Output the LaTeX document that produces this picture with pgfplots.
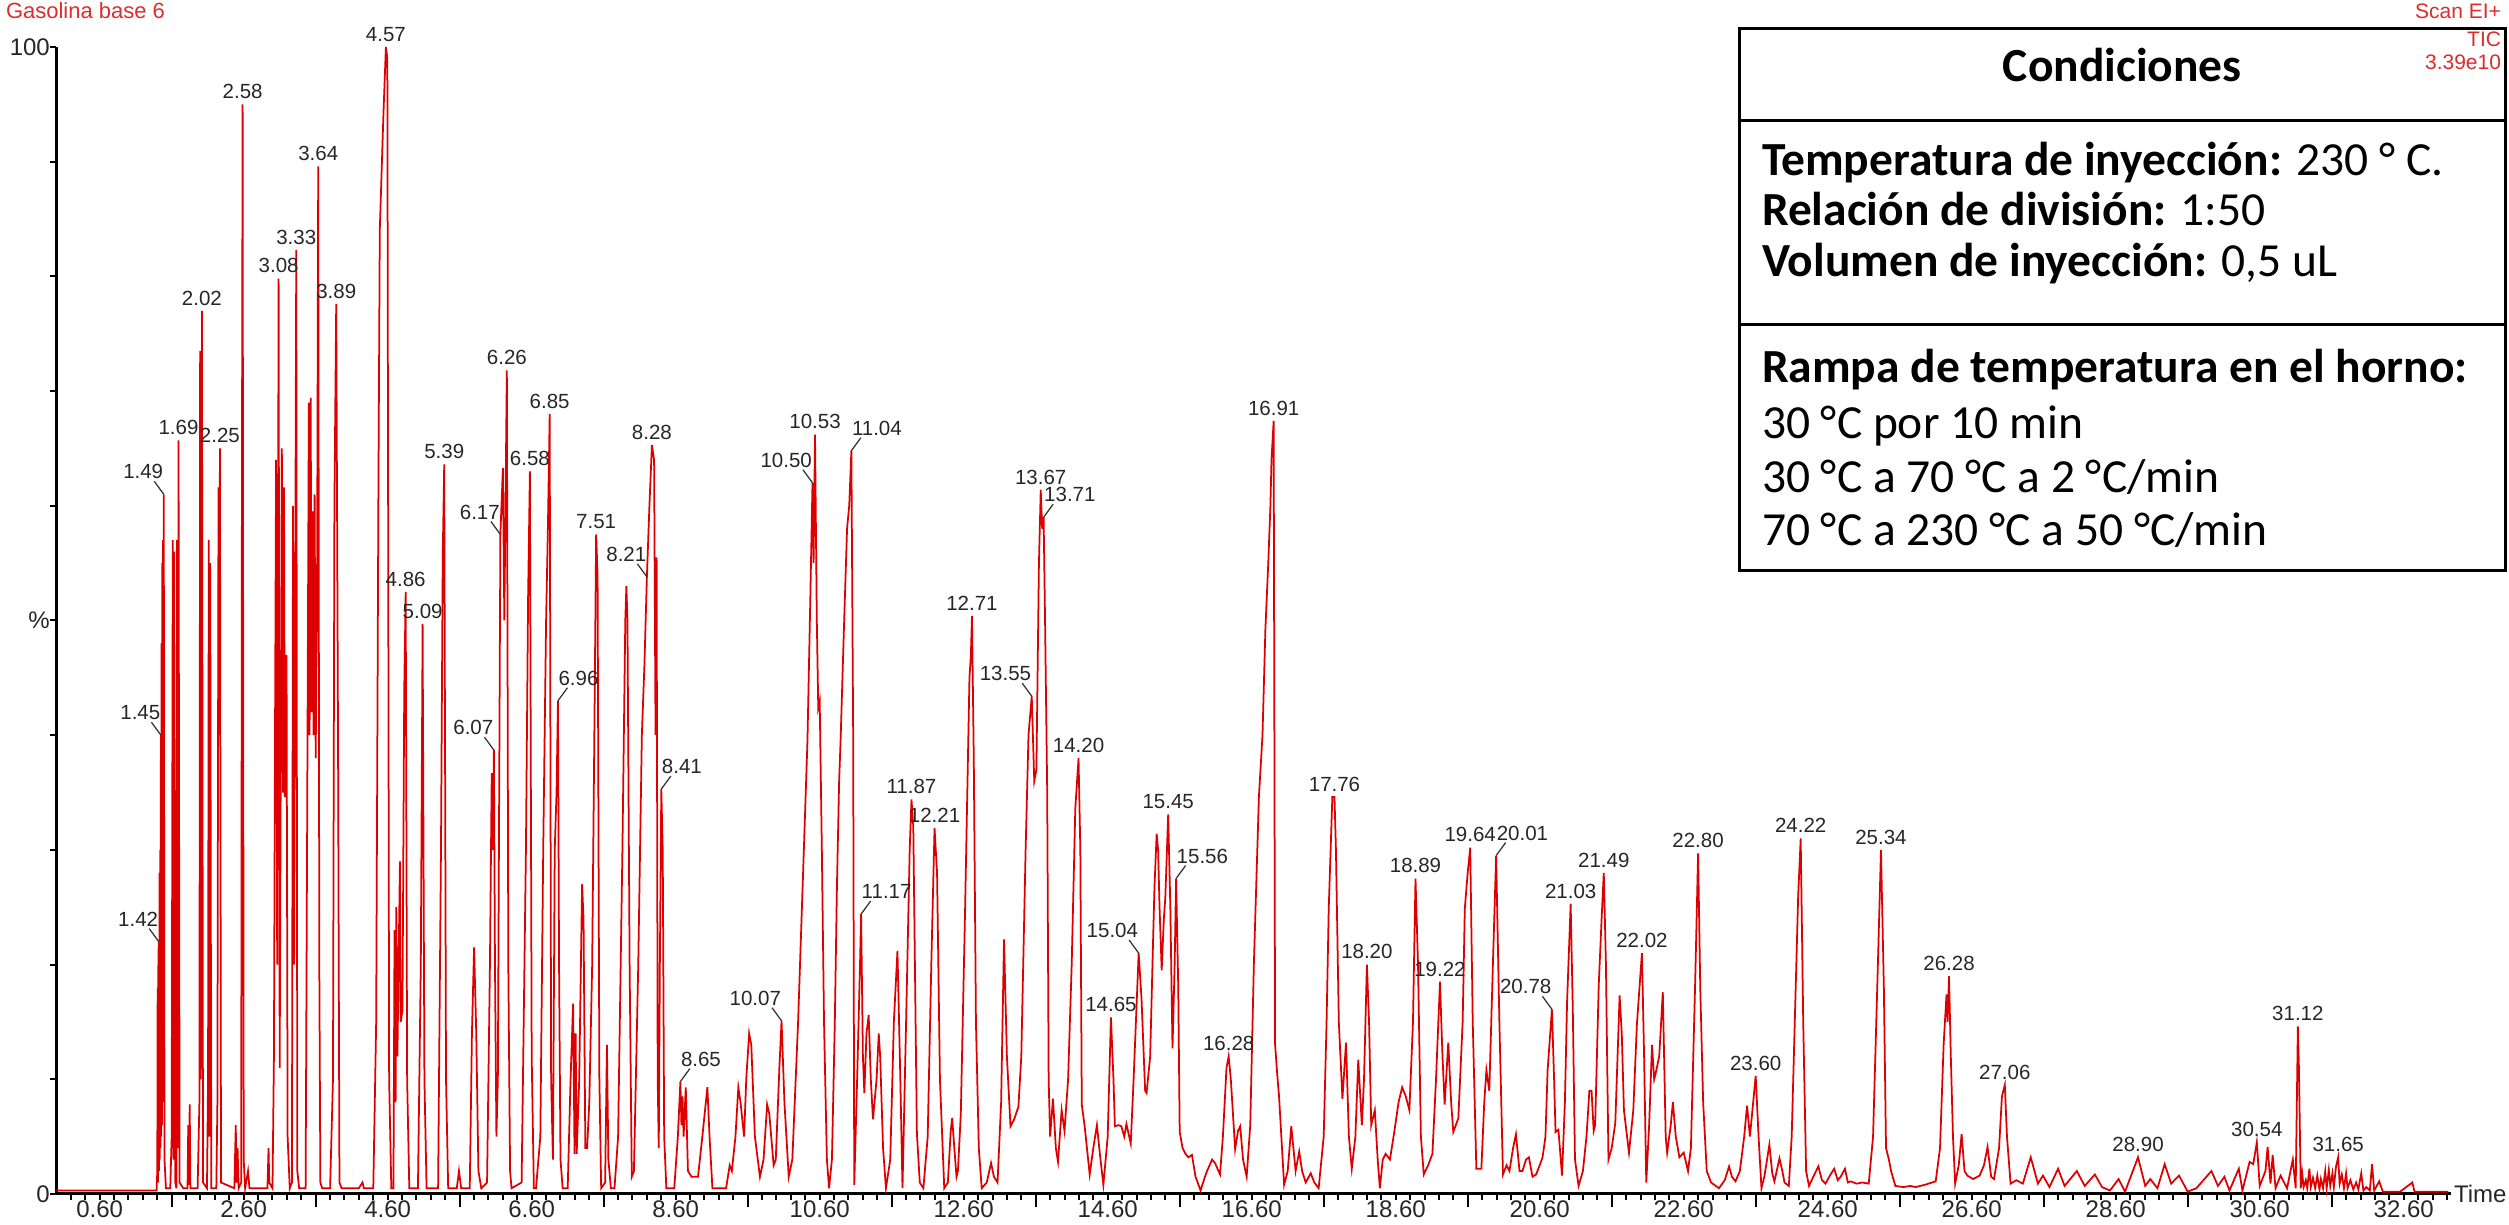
\documentclass[border=0pt]{standalone}
\usepackage{pgfplots}
\pgfplotsset{compat=1.18}
\usepackage{fontspec}
\setmainfont{Liberation Sans}
\newfontfamily\calibri{Carlito}
\definecolor{trace}{RGB}{222,0,0}
\definecolor{redtxt}{RGB}{220,45,45}
\tikzset{pl/.style={font=\fontsize{4.1}{5}\selectfont, text=black!85, inner sep=0.3pt},
         ld/.style={draw=black!80, line width=0.25pt}}
\newcommand{\pa}[3]{\node[pl,anchor=south,yshift=0.6pt] at (axis cs:#1,#2) {#3};}
\newcommand{\pl}[3]{\draw[ld] (axis cs:#1,#2) -- ++(-1.9pt,2.6pt) node[pl,anchor=south east,xshift=2.2pt] {#3};}
\newcommand{\pr}[3]{\draw[ld] (axis cs:#1,#2) -- ++(1.9pt,2.6pt) node[pl,anchor=south west,xshift=-2.2pt] {#3};}
\begin{document}
\begin{tikzpicture}
\path[use as bounding box] (0,0) rectangle (501.8pt,245pt);
\begin{axis}[
  at={(11.3pt,6.2pt)}, anchor=south west,
  scale only axis, width=478.8pt, height=229.4pt,
  xmin=0, xmax=33.25, ymin=0, ymax=100,
  clip=false,
  axis lines=left,
  axis line style={-, line width=0.6pt, black},
  tick align=outside,
  major tick length=1.2pt, minor tick length=1.2pt,
  tick style={black, line width=0.4pt},
  xtick={0.6,2.6,4.6,6.6,8.6,10.6,12.6,14.6,16.6,18.6,20.6,22.6,24.6,26.6,28.6,30.6,32.6},
  xticklabels={0.60,2.60,4.60,6.60,8.60,10.60,12.60,14.60,16.60,18.60,20.60,22.60,24.60,26.60,28.60,30.60,32.60},
  minor xtick={0.2,0.4,...,33.2},
  extra x ticks={1.6,3.6,5.6,7.6,9.6,11.6,13.6,15.6,17.6,19.6,21.6,23.6,25.6,27.6,29.6,31.6},
  extra x tick labels={},
  extra x tick style={major tick length=2.6pt},
  ytick={0,10,20,30,40,50,60,70,80,90,100},
  yticklabels={0,,,,,\%,,,,,100},
  tick label style={font=\fontsize{4.8}{5.5}\selectfont, text=black!85},
  xticklabel style={inner sep=0pt, anchor=north},
  yticklabel style={xshift=3.4pt},
]
\addplot[trace, line width=0.35pt] coordinates {
(0,0.3)(1.39,0.3)(1.40,2)(1.405,18)(1.41,1)(1.415,20)(1.42,22)(1.425,2)(1.43,28)(1.435,3)(1.44,30)(1.445,4)(1.45,40)(1.455,5)(1.46,48)(1.465,6)(1.47,55)(1.475,8)(1.48,57)(1.485,10)(1.49,61)(1.50,3)(1.52,0.5)
(1.58,0.5)(1.60,5)(1.615,57)(1.625,3)(1.635,56)(1.65,1)(1.665,0.5)(1.675,57)(1.685,4)(1.695,65.7)(1.71,1)(1.76,0.5)(1.82,0.5)(1.83,6)(1.84,0.8)(1.85,7.8)(1.86,0.5)(1.96,0.5)(1.985,8)(1.995,73.5)(2.005,10)(2.02,77)(2.035,1)(2.09,0.5)(2.105,10)(2.115,57)(2.125,5)(2.135,55)(2.15,0.5)(2.22,0.5)(2.235,8)(2.25,61.6)(2.26,40)(2.27,65)(2.285,1)(2.47,0.5)(2.49,6)(2.50,1)(2.515,4)(2.53,0.5)(2.565,1)(2.575,60)(2.585,95)(2.60,3)(2.62,0.5)(2.66,2)(2.68,0.5)(2.93,0.5)(2.945,4)(2.955,1)(3.00,0.5)(3.02,12)(3.035,40)(3.05,64)(3.065,20)(3.085,79.8)(3.10,11)(3.13,65)(3.145,35)(3.16,61.6)(3.17,34.6)(3.195,47)(3.21,5)(3.24,0.5)(3.27,1)(3.285,60)(3.30,20)(3.33,82.3)(3.345,2)(3.37,0.5)(3.46,0.5)(3.48,30)(3.505,69)(3.515,40)(3.53,69.4)(3.545,42)(3.56,59.5)(3.57,40)(3.585,61)(3.60,38)(3.62,55)(3.635,89.6)(3.65,20)(3.665,1)(3.69,0.5)(3.80,0.5)(3.84,10)(3.86,60)(3.885,77.6)(3.91,40)(3.93,1)(3.96,0.5)(4.20,0.5)(4.25,1)(4.27,0.5)(4.40,0.5)(4.44,15)(4.47,60)(4.49,84)(4.54,94)(4.575,100)(4.595,99)(4.62,10)(4.65,0.5)(4.68,0.5)(4.695,23)(4.71,8)(4.72,25)(4.735,12)(4.77,29)(4.78,15)(4.805,16)(4.83,44)(4.85,52.5)(4.87,10)(4.90,0.5)(5.02,0.5)(5.06,20)(5.085,49.7)(5.11,10)(5.14,0.5)(5.30,0.5)(5.34,30)(5.365,55.8)(5.385,63.6)(5.41,10)(5.44,0.5)(5.56,0.5)(5.59,2)(5.62,0.5)(5.74,0.5)(5.77,14)(5.80,21.5)(5.83,14)(5.86,2)(5.90,0.5)(5.98,1)(6.02,20)(6.045,36.7)(6.06,30)(6.075,38.7)(6.09,20)(6.11,5)(6.13,10)(6.165,57.5)(6.20,63.3)(6.22,50)(6.255,71.8)(6.275,20)(6.30,2)(6.32,0.5)(6.46,1)(6.52,30)(6.55,52)(6.575,63)(6.60,12)(6.63,0.5)(6.66,0.5)(6.72,5)(6.76,30)(6.80,50)(6.825,58)(6.85,68)(6.87,10)(6.895,3)(6.92,30)(6.945,35)(6.965,43)(6.98,20)(7.00,3)(7.03,0.5)(7.10,0.5)(7.14,10)(7.175,16.6)(7.195,3.5)(7.21,14)(7.225,3.5)(7.26,10)(7.30,27)(7.32,24)(7.345,4)(7.37,4)(7.40,8)(7.44,20)(7.47,40)(7.495,57.5)(7.515,54)(7.54,10)(7.565,0.5)(7.62,1)(7.645,13)(7.665,3)(7.70,0.5)(7.75,0.5)(7.80,5)(7.86,30)(7.90,50)(7.915,53)(7.93,50)(7.96,20)(7.99,1.5)(8.02,2)(8.08,20)(8.13,40)(8.165,46)(8.20,53.8)(8.235,60)(8.27,65.3)(8.30,64)(8.32,40)(8.335,55.5)(8.35,10)(8.365,4)(8.38,20)(8.40,35.3)(8.42,30)(8.44,5)(8.47,0.5)(8.58,0.5)
(8.63,5)(8.665,9.8)(8.68,6)(8.695,8.5)(8.71,5)(8.74,9.3)(8.77,2)(8.82,1.5)(8.87,1.5)(8.91,1.5)(8.97,5)(9.04,9.3)(9.07,5)(9.11,0.5)(9.30,0.5)(9.35,2.5)(9.38,2)(9.43,5)(9.47,9.3)(9.50,8)(9.55,5)(9.58,10)(9.62,14)(9.65,13)(9.70,5)(9.77,1.5)(9.82,3)(9.87,7.8)(9.90,7)(9.96,2.5)(9.99,3)(10.04,11)(10.07,15.1)(10.11,8)(10.17,1.5)(10.22,3)(10.30,15)(10.38,30)(10.43,39.5)(10.47,52)(10.50,62)(10.515,55)(10.535,66.2)(10.56,50)(10.58,42.4)(10.60,43)(10.63,30)(10.66,15)(10.70,3)(10.73,0.5)(10.77,3)(10.81,15)(10.84,27)(10.87,36)(10.89,39.5)(10.94,50)(10.98,58)(11.01,60)(11.04,64.8)(11.065,40)(11.08,0.8)(11.12,10)(11.16,20)(11.175,24.4)(11.20,12)(11.22,8.8)(11.25,14)(11.28,15.6)(11.31,10)(11.34,6.5)(11.39,10)(11.42,14)(11.44,12)(11.48,4)(11.52,0.5)(11.58,3)(11.63,15)(11.68,21.2)(11.72,10)(11.75,0.5)(11.80,15)(11.85,30)(11.875,34.4)(11.90,32)(11.95,5.3)(11.99,1)(12.04,0.5)(12.10,5)(12.15,20)(12.195,31.9)(12.23,28)(12.27,10)(12.33,0.5)(12.38,1)(12.42,5.5)(12.44,6.6)(12.47,4)(12.50,1.5)(12.52,2)(12.56,7)(12.62,25)(12.68,45)(12.70,47)(12.715,50.4)(12.74,38)(12.77,15)(12.81,4)(12.85,0.5)(12.92,1)(12.98,2.7)(13.02,1.5)(13.07,1)(13.12,8)(13.16,22.2)(13.20,12)(13.25,5.9)(13.30,6.5)(13.36,7.6)(13.40,12)(13.46,30)(13.50,40)(13.545,43.4)(13.58,36)(13.61,37)(13.645,55)(13.67,61.4)(13.69,58)(13.71,59)(13.73,50)(13.76,35)(13.78,10)(13.80,5)(13.84,8.3)(13.88,4)(13.91,2.8)(13.96,7.3)(14.00,5.5)(14.05,10)(14.10,20)(14.15,33.6)(14.195,38)(14.22,30)(14.24,7.8)(14.28,5.9)(14.35,1.7)(14.40,4)(14.45,6)(14.50,3)(14.54,0.8)(14.60,5)(14.645,15.4)(14.68,10)(14.70,5.9)(14.75,6)(14.79,5.9)(14.83,5)(14.86,6.1)(14.92,4.4)(14.96,10)(15.03,21)(15.07,17)(15.12,9)(15.14,8.8)(15.19,12)(15.23,22)(15.25,26.8)(15.28,31.4)(15.30,30)(15.32,25)(15.35,19.5)(15.38,24)(15.40,25.8)(15.44,33.1)(15.47,25)(15.50,12.7)(15.53,20)(15.55,27.5)(15.58,18)(15.60,5.4)(15.64,4)(15.68,3.5)(15.72,3.2)(15.77,3.4)(15.82,1.5)(15.89,0.3)(15.95,1.5)(15.98,2)(16.05,3)(16.09,2.7)(16.16,1.7)(16.20,5)(16.25,11)(16.28,12)(16.31,10)(16.37,3.9)(16.41,5.5)(16.44,5.9)(16.48,3)(16.53,1.5)(16.58,6)(16.63,20)(16.70,34.6)(16.75,40)(16.79,49.2)(16.83,55)(16.86,60)(16.875,64)(16.905,67.4)(16.925,13)(16.96,10)(16.98,8.5)(17.05,0.8)(17.10,2)(17.15,5.9)(17.21,2)(17.26,3.7)(17.30,2)(17.35,1)(17.42,1.8)(17.47,1)(17.53,0.5)(17.60,5)(17.64,15)(17.67,24.9)(17.72,34.6)(17.75,34.6)(17.77,30)(17.81,15)(17.86,8.3)(17.91,13.2)(17.95,5)(17.99,2.2)(18.04,5)(18.08,11.7)(18.13,6)(18.16,10)(18.20,20)(18.23,15)(18.26,6)(18.31,7.3)(18.35,3)(18.38,0.5)(18.42,3)(18.46,3.5)(18.52,3)(18.58,5.4)(18.64,8)(18.69,9.3)(18.74,8.5)(18.79,7.3)(18.84,15)(18.875,27.5)(18.91,20)(18.95,5)(18.99,1.7)(19.05,2.5)(19.11,3.5)(19.16,10)(19.215,18.5)(19.25,12)(19.28,7.8)(19.33,13.2)(19.37,8)(19.40,5.4)(19.47,6.6)(19.53,15)(19.56,24.9)(19.60,28)(19.635,30.2)(19.67,15)(19.72,2.2)(19.79,2.2)(19.83,8)(19.86,10.8)(19.90,9)(19.95,20)(19.995,29.5)(20.04,15)(20.09,1.7)(20.14,2.5)(20.18,2)(20.23,4)(20.27,5.2)(20.32,2)(20.36,2)(20.41,3)(20.45,3.2)(20.50,1.5)(20.55,1.7)(20.60,2.5)(20.64,3.2)(20.68,5)(20.71,10.8)(20.77,16.1)(20.80,10)(20.82,5.4)(20.86,5.6)(20.91,1.6)(20.95,8)(20.98,16.7)(21.03,25.3)(21.06,16)(21.09,3)(21.14,0.7)(21.20,2)(21.25,5)(21.29,9)(21.32,9)(21.35,5.5)(21.37,6)(21.42,18.2)(21.46,24)(21.49,28)(21.52,20)(21.555,3)(21.60,4)(21.65,6.2)(21.71,17.3)(21.74,14)(21.77,7.3)(21.84,3.6)(21.90,7.3)(21.95,14.8)(22.02,21)(22.05,12)(22.08,1)(22.12,6)(22.16,13)(22.19,10)(22.21,10.5)(22.26,12)(22.31,17.6)(22.35,5)(22.37,3.6)(22.42,6)(22.45,8)(22.49,5)(22.54,3.2)(22.60,3.6)(22.66,2)(22.70,4)(22.76,18.6)(22.80,29.7)(22.83,18)(22.87,8)(22.92,2)(22.98,1)(23.09,0.5)(23.17,1.2)(23.23,2.4)(23.27,1.5)(23.32,1.1)(23.38,2)(23.44,5)(23.48,7.7)(23.52,5)(23.55,7)(23.60,10.3)(23.64,5)(23.68,0.5)(23.72,1.5)(23.79,4.3)(23.83,1.8)(23.86,1.1)(23.93,3.1)(23.97,2)(24.00,1)(24.06,0.7)(24.10,5)(24.15,16.7)(24.19,26)(24.225,31)(24.26,15)(24.30,2)(24.34,0.7)(24.40,1.5)(24.47,2.4)(24.52,1.2)(24.57,0.9)(24.63,1.6)(24.69,2.2)(24.74,1.2)(24.78,1.5)(24.84,2.2)(24.88,1)(24.92,1.1)(25.00,0.9)(25.08,1)(25.17,0.9)(25.23,5)(25.29,18.4)(25.34,30)(25.38,18)(25.41,4)(25.45,3)(25.48,2)(25.54,0.7)(25.65,0.6)(25.75,0.7)(25.82,0.6)(25.95,0.8)(26.05,1)(26.10,1.1)(26.16,4)(26.21,13)(26.25,17.4)(26.265,15)(26.285,19)(26.31,12)(26.34,5)(26.37,0.9)(26.42,2.5)(26.46,5.2)(26.50,2)(26.54,1.6)(26.62,1.3)(26.68,1.5)(26.71,1.6)(26.77,2.5)(26.82,4.1)(26.87,1.5)(26.91,1.3)(26.98,4)(27.02,8.5)(27.06,9.5)(27.09,5)(27.14,0.9)(27.22,1.2)(27.31,0.9)
(27.42,3.2)(27.52,0.9)(27.59,1.6)(27.68,0.6)(27.80,2.2)(27.89,0.7)(28.06,2.0)(28.17,0.7)(28.31,1.7)(28.41,0.6)(28.52,0.3)(28.64,1.3)(28.73,0.2)(28.91,3.2)(29.01,0.7)(29.08,1.3)(29.18,0.5)(29.28,2.6)(29.37,0.9)(29.48,1.6)(29.60,0.2)(29.72,0.5)(29.93,2.0)(30.02,0.7)(30.11,1.5)(30.18,0.3)(30.31,2.2)(30.36,0.3)(30.46,2.8)(30.51,2.6)(30.56,4.5)(30.60,0.7)(30.68,2.0)(30.71,4.1)(30.75,0.9)(30.78,3.4)(30.82,0.5)(30.89,1.6)(30.98,0.5)(31.06,3.0)(31.10,0.5)(31.13,14.6)(31.145,11)(31.17,0.5)(31.19,1.8)(31.21,0.6)(31.24,1.2)(31.26,0.5)(31.29,2.2)(31.31,0.6)(31.34,1.4)(31.37,0.5)(31.40,1.6)(31.43,0.4)(31.45,1.3)(31.48,0.5)(31.51,2.0)(31.53,0.5)(31.56,2.1)(31.58,0.7)(31.61,1.8)(31.63,0.6)(31.66,2.4)(31.69,3.2)(31.71,0.9)(31.74,1.7)(31.77,0.5)(31.80,1.8)(31.82,0.5)(31.86,1.2)(31.90,0.4)(31.94,1.0)(31.97,0.4)(32.01,1.8)(32.04,0.3)(32.08,0.6)(32.13,0.3)(32.16,2.6)(32.19,0.3)(32.26,1.1)(32.31,0.2)(32.55,0.2)(32.72,1.0)(32.75,0.2)(33.22,0.2)
};
% peak labels
\pl{1.42}{22}{1.42}
\pl{1.45}{40}{1.45}
\pl{1.49}{61}{1.49}
\pa{1.695}{65.7}{1.69}
\pa{2.02}{77}{2.02}
\pa{2.27}{65}{2.25}
\pa{2.585}{95}{2.58}
\pa{3.085}{79.8}{3.08}
\pa{3.33}{82.3}{3.33}
\pa{3.635}{89.6}{3.64}
\pa{3.885}{77.6}{3.89}
\pa{4.575}{100}{4.57}
\pa{4.85}{52.5}{4.86}
\pa{5.085}{49.7}{5.09}
\pa{5.385}{63.6}{5.39}
\pl{6.075}{38.7}{6.07}
\pl{6.165}{57.5}{6.17}
\pa{6.255}{71.8}{6.26}
\pa{6.575}{63}{6.58}
\pa{6.85}{68}{6.85}
\pr{6.965}{43}{6.96}
\pa{7.495}{57.5}{7.51}
\pl{8.20}{53.8}{8.21}
\pa{8.27}{65.3}{8.28}
\pr{8.40}{35.3}{8.41}
\pr{8.665}{9.8}{8.65}
\pl{10.07}{15.1}{10.07}
\pl{10.50}{62}{10.50}
\pa{10.535}{66.2}{10.53}
\pr{11.04}{64.8}{11.04}
\pr{11.175}{24.4}{11.17}
\pa{11.875}{34.4}{11.87}
\pa{12.195}{31.9}{12.21}
\pa{12.715}{50.4}{12.71}
\pl{13.545}{43.4}{13.55}
\pa{13.67}{61.4}{13.67}
\pr{13.71}{59}{13.71}
\pa{14.195}{38}{14.20}
\pa{14.645}{15.4}{14.65}
\pl{15.03}{21}{15.04}
\pa{15.44}{33.1}{15.45}
\pr{15.55}{27.5}{15.56}
\pa{16.28}{12}{16.28}
\pa{16.905}{67.4}{16.91}
\pa{17.75}{34.6}{17.76}
\pa{18.20}{20}{18.20}
\pa{18.875}{27.5}{18.89}
\pa{19.215}{18.5}{19.22}
\pa{19.635}{30.2}{19.64}
\pr{19.995}{29.5}{20.01}
\pl{20.77}{16.1}{20.78}
\pa{21.03}{25.3}{21.03}
\pa{21.49}{28}{21.49}
\pa{22.02}{21}{22.02}
\pa{22.80}{29.7}{22.80}
\pa{23.60}{10.3}{23.60}
\pa{24.225}{31}{24.22}
\pa{25.34}{30}{25.34}
\pa{26.285}{19}{26.28}
\pa{27.06}{9.5}{27.06}
\pa{28.91}{3.2}{28.90}
\pa{30.56}{4.5}{30.54}
\pa{31.13}{14.6}{31.12}
\pa{31.69}{3.2}{31.65}
\node[anchor=west, font=\fontsize{4.8}{5.5}\selectfont, text=black!85, inner sep=0.5pt] at (axis cs:33.25,0) {Time};
\end{axis}
% conditions box
\filldraw[fill=white, draw=black, line width=0.6pt] (347.8pt,130.8pt) rectangle (501.1pt,239.2pt);
\draw[line width=0.6pt] (347.8pt,220.8pt) -- (501.1pt,220.8pt);
\draw[line width=0.6pt] (347.8pt,180.0pt) -- (501.1pt,180.0pt);
\begin{scope}[every node/.style={inner sep=0pt, font=\calibri\fontsize{9.5}{11}\selectfont}]
\node[anchor=base] at (424.45pt,228.6pt) {\bfseries Condiciones};
\node[anchor=base west] at (352.2pt,209.8pt) {\textbf{Temperatura de inyección:} 230 ° C.};
\node[anchor=base west] at (352.2pt,199.9pt) {\textbf{Relación de división:} 1:50};
\node[anchor=base west] at (352.2pt,189.6pt) {\textbf{Volumen de inyección:} 0,5 uL};
\node[anchor=base west] at (352.2pt,168.5pt) {\textbf{Rampa de temperatura en el horno:}};
\node[anchor=base west] at (352.2pt,157.3pt) {30 °C por 10 min};
\node[anchor=base west] at (352.2pt,146.4pt) {30 °C a 70 °C a 2 °C/min};
\node[anchor=base west] at (352.2pt,135.9pt) {70 °C a 230 °C a 50 °C/min};
\end{scope}
% header texts
\begin{scope}[every node/.style={inner sep=0pt, text=redtxt, font=\fontsize{4.2}{5}\selectfont}]
\node[anchor=base west, font=\fontsize{4.4}{5}\selectfont] at (1pt,241.2pt) {Gasolina base 6};
\node[anchor=base east] at (500.4pt,241.2pt) {Scan EI+};
\node[anchor=base east] at (500.4pt,235.6pt) {TIC};
\node[anchor=base east] at (500.4pt,231.1pt) {3.39e10};
\end{scope}
\end{tikzpicture}
\end{document}
